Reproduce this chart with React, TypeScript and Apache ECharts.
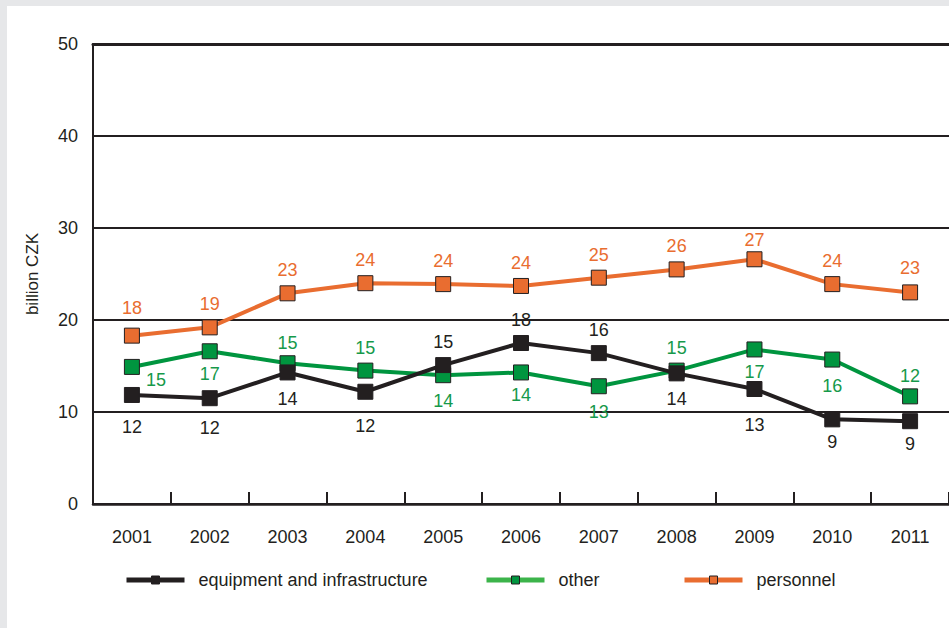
import React, { useEffect, useRef } from 'react';
import * as echarts from 'echarts';

const years = ['2001', '2002', '2003', '2004', '2005', '2006', '2007', '2008', '2009', '2010', '2011'];
const equipment = [11.85, 11.5, 14.3, 12.2, 15.1, 17.5, 16.4, 14.2, 12.5, 9.2, 9.0];
const other = [14.9, 16.6, 15.3, 14.5, 14.0, 14.3, 12.8, 14.5, 16.8, 15.7, 11.7];
const personnel = [18.3, 19.2, 22.9, 24.0, 23.9, 23.7, 24.6, 25.5, 26.6, 23.9, 23.0];
const yMin = 0;
const yMax = 50;
const yStep = 10;

const FONT = '"Liberation Sans", Arial, sans-serif';
const FS = 18;
const BLACK = '#231f20';
const GREEN = '#00953f';
const GREEN_TEXT = '#16994a';
const ORANGE = '#e96d30';

// label placement (layout only)
const eqPos = ['bottom', 'bottom', 'bottom', 'bottom', 'top', 'top', 'top', 'bottom', 'bottom', 'bottom', 'bottom'];
const eqDy = [9, 7, 4, 11, 0, 0, 0, 3, 13, 0, 0];
const otPos = ['right', 'bottom', 'top', 'top', 'bottom', 'bottom', 'bottom', 'top', 'bottom', 'bottom', 'top'];
const otDy = [13, 0, 3, 0, 3, 0, 3, 0, 0, 3, 3];
const peDy = [-5, 0, 0, 0, 0, 0, 0, 0, 4, 0, -1];

function build(values: number[], pos: string[], dy: number[]) {
  return values.map((v, i) => ({
    value: v,
    label: { position: pos[i], offset: [0, dy[i]] },
  }));
}

function series(name: string, data: any[], color: string, textColor: string, z: number) {
  return {
    name,
    type: 'line',
    data,
    z,
    symbol: 'rect',
    symbolSize: 15,
    lineStyle: { color, width: 4 },
    itemStyle: { color, borderColor: BLACK, borderWidth: 1 },
    label: {
      show: true,
      formatter: (p: any) => String(Math.round(p.value)),
      color: textColor,
      fontSize: FS,
      fontFamily: FONT,
      distance: 6,
    },
  };
}

function legend(name: string, left: number, lineColor: string, fill: string) {
  return {
    data: [name],
    left,
    top: 565,
    padding: 0,
    itemWidth: 58,
    itemHeight: 10,
    lineStyle: { color: lineColor, width: 5 },
    itemStyle: { color: fill, borderColor: BLACK, borderWidth: 1 },
    textStyle: { color: BLACK, fontSize: FS, fontFamily: FONT, padding: [0, 0, 0, 9] },
    selectedMode: false,
  };
}

export default function App() {
  const ref = useRef<HTMLDivElement>(null);
  useEffect(() => {
    if (!ref.current) return;
    const chart = echarts.init(ref.current, undefined, { renderer: 'svg' });
    chart.setOption({
      animation: false,
      textStyle: { fontFamily: FONT },
      grid: { left: 86, top: 38, bottom: 124, right: -7 },
      legend: [
        legend('equipment and infrastructure', 117, BLACK, BLACK),
        legend('other', 477, '#3cb44a', GREEN),
        legend('personnel', 675, ORANGE, ORANGE),
      ],
      xAxis: [
        {
          type: 'category',
          data: years,
          boundaryGap: true,
          axisLine: { lineStyle: { color: BLACK, width: 2.5 } },
          axisTick: { show: true, inside: true, length: 12, lineStyle: { color: BLACK, width: 2 } },
          axisLabel: { color: BLACK, fontSize: FS, fontFamily: FONT, margin: 24 },
        },
        {
          type: 'category',
          data: years,
          position: 'top',
          axisLine: { show: true, lineStyle: { color: BLACK, width: 3 } },
          axisTick: { show: false },
          axisLabel: { show: false },
        },
      ],
      yAxis: {
        type: 'value',
        min: yMin,
        max: yMax,
        interval: yStep,
        name: 'billion CZK',
        nameLocation: 'middle',
        nameGap: 52,
        nameTextStyle: { color: BLACK, fontSize: 17, fontFamily: FONT },
        axisLine: { show: true, lineStyle: { color: BLACK, width: 2 } },
        axisTick: { show: false },
        splitLine: { show: true, lineStyle: { color: BLACK, width: 2 } },
        axisLabel: { color: BLACK, fontSize: FS, fontFamily: FONT, margin: 15 },
      },
      series: [
        series('personnel', build(personnel, personnel.map(() => 'top'), peDy), ORANGE, ORANGE, 2),
        series('other', build(other, otPos, otDy), GREEN, GREEN_TEXT, 3),
        series('equipment and infrastructure', build(equipment, eqPos, eqDy), BLACK, BLACK, 4),
      ],
    });
    return () => chart.dispose();
  }, []);
  return (
    <div style={{ position: 'absolute', left: 0, top: 0, width: 949, height: 628, background: '#e6e7e9', overflow: 'hidden' }}>
      <div ref={ref} style={{ position: 'absolute', left: 7, top: 6, width: 942, height: 622, background: '#ffffff' }} />
    </div>
  );
}
